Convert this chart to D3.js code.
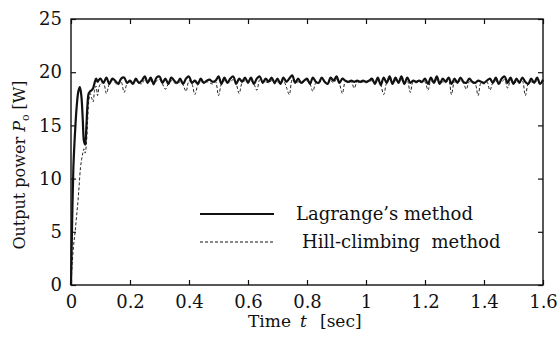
<!DOCTYPE html>
<html>
<head>
<meta charset="utf-8">
<script src="https://cdn.jsdelivr.net/npm/d3@7"></script>
<style>
  html, body { margin: 0; padding: 0; background: #fff; }
  svg { display: block; }
  svg text { font-family: "DejaVu Serif", serif; fill: #111; }
</style>
</head>
<body>
<svg id="chart" width="559" height="345"></svg>
<script>
// ---- data ----
const xTicks = [0, 0.2, 0.4, 0.6, 0.8, 1, 1.2, 1.4, 1.6];
const xTickLabels = ["0", "0.2", "0.4", "0.6", "0.8", "1", "1.2", "1.4", "1.6"];
const yTicks = [0, 5, 10, 15, 20, 25];
const yTickLabels = ["0", "5", "10", "15", "20", "25"];

// start-up transient (t in seconds)
const lagrangeStartTime = [0, 0.002, 0.005, 0.008, 0.012, 0.016, 0.02, 0.025, 0.03, 0.035, 0.04, 0.044, 0.048, 0.052, 0.056, 0.06, 0.065, 0.07, 0.075, 0.08, 0.085, 0.09, 0.095];
const lagrangeStartPower = [0, 3.0, 7.5, 11.0, 13.5, 15.5, 17.0, 18.2, 18.6, 17.8, 15.5, 13.5, 13.2, 14.8, 17.0, 18.0, 18.2, 18.3, 18.5, 19.0, 19.4, 19.1, 19.3];

const hillStartTime = [0, 0.004, 0.009, 0.014, 0.019, 0.024, 0.028, 0.032, 0.036, 0.04, 0.044, 0.048, 0.052, 0.056, 0.06, 0.065, 0.07, 0.075, 0.08, 0.085, 0.09, 0.095];
const hillStartPower = [0, 2.0, 3.8, 5.0, 6.5, 8.0, 9.5, 11.0, 11.8, 12.4, 12.8, 12.4, 13.2, 15.2, 17.2, 18.0, 17.6, 17.2, 18.3, 18.7, 17.8, 18.6];

// steady operation, sampled every 10 ms from 0.10 s to 1.60 s
const steadyStart = 0.10, steadyStep = 0.01;
const lagrangePower = [
  19.4, 19.0, 19.5, 18.9, 19.4, 19.2, 18.9, 19.4, 19.5, 19.0,
  19.2, 18.9, 19.4, 19.0, 19.2, 19.6, 19.0, 19.5, 18.9, 19.5,
  19.6, 19.0, 19.4, 18.9, 19.5, 19.2, 19.0, 19.4, 18.9, 19.4,
  19.6, 19.0, 19.2, 18.9, 19.4, 19.0, 19.2, 19.3, 19.1, 19.2,
  19.6, 18.9, 19.5, 19.0, 19.4, 19.6, 18.9, 19.4, 19.1, 19.5,
  19.0, 19.5, 18.9, 19.4, 19.6, 19.0, 19.4, 19.1, 19.5, 19.0,
  19.4, 18.9, 19.5, 19.1, 19.4, 19.7, 19.0, 19.4, 19.0, 19.2,
  19.4, 18.9, 19.5, 19.1, 19.0, 19.5, 19.1, 18.9, 19.5, 19.2,
  19.6, 19.0, 19.4, 19.2, 19.1, 19.2, 19.1, 19.2, 19.1, 19.2,
  19.1, 19.2, 19.4, 18.9, 19.5, 18.8, 19.5, 19.0, 19.6, 18.9,
  19.5, 19.0, 19.6, 18.9, 19.5, 19.0, 19.2, 19.1, 19.2, 19.1,
  19.4, 18.9, 19.5, 19.0, 19.6, 18.9, 19.4, 19.1, 19.5, 18.9,
  19.4, 19.0, 19.5, 19.1, 19.0, 19.4, 19.1, 19.0, 19.2, 19.1,
  19.0, 19.2, 19.4, 19.0, 19.5, 18.9, 19.4, 19.6, 19.0, 19.5,
  18.9, 19.4, 19.0, 19.5, 19.1, 18.9, 19.4, 19.0, 19.5, 18.9, 19.3
];
const hillPower = [
  18.9, 19.0, 18.0, 18.9, 19.2, 19.0, 18.8, 19.1, 18.1, 18.9,
  19.1, 18.9, 19.2, 19.0, 18.9, 19.3, 19.0, 19.2, 18.8, 19.2,
  19.3, 18.9, 18.4, 18.9, 19.2, 19.0, 18.9, 19.1, 18.8, 18.2,
  19.2, 18.9, 17.9, 18.8, 19.1, 19.0, 19.1, 19.0, 18.9, 19.1,
  17.8, 18.9, 19.2, 19.0, 19.1, 19.3, 18.9, 18.0, 19.0, 19.2,
  19.0, 19.2, 18.9, 18.3, 19.3, 19.0, 19.1, 19.0, 19.2, 18.9,
  19.1, 18.9, 19.2, 18.6, 17.9, 19.3, 19.0, 19.1, 19.0, 19.1,
  19.2, 18.9, 18.2, 19.0, 19.0, 19.2, 19.1, 18.9, 19.2, 19.0,
  19.3, 18.9, 18.0, 19.1, 19.0, 19.1, 18.5, 19.1, 19.0, 19.1,
  19.0, 19.1, 19.2, 18.9, 19.2, 18.8, 17.9, 19.0, 19.3, 18.9,
  19.2, 19.0, 19.3, 18.9, 19.2, 18.1, 19.1, 19.0, 19.1, 19.0,
  19.1, 18.3, 19.2, 19.0, 19.3, 18.9, 19.1, 19.0, 19.2, 17.9,
  19.1, 19.0, 19.2, 19.0, 18.4, 19.1, 19.0, 18.9, 17.8, 19.0,
  18.9, 19.1, 18.3, 19.0, 19.2, 18.9, 19.1, 19.3, 18.5, 19.2,
  18.9, 19.1, 19.0, 19.2, 17.8, 18.9, 19.1, 19.0, 19.2, 18.9, 19.1
];

const legendLabels = ["Lagrange\u2019s method", "Hill-climbing  method"];

// ---- build point lists ----
function buildSeries(startT, startP, steady) {
  const pts = startT.map((t, i) => [t, startP[i]]);
  steady.forEach((p, i) => pts.push([+(steadyStart + i * steadyStep).toFixed(3), p]));
  return pts;
}
const lagrangeSeries = buildSeries(lagrangeStartTime, lagrangeStartPower, lagrangePower);
const hillSeries = buildSeries(hillStartTime, hillStartPower, hillPower);

// ---- layout ----
const W = 559, H = 345;
const margin = { top: 19, right: 16, bottom: 60, left: 71 };
const iw = W - margin.left - margin.right;
const ih = H - margin.top - margin.bottom;
const serif = "'DejaVu Serif', serif";

const svg = d3.select("#chart");
const g = svg.append("g").attr("transform", `translate(${margin.left},${margin.top})`);

const x = d3.scaleLinear().domain([0, 1.6]).range([0, iw]);
const y = d3.scaleLinear().domain([0, 25]).range([ih, 0]);

const tickLen = 5;

// axes with inward ticks on all four sides
const axisBottom = d3.axisBottom(x).tickValues(xTicks)
  .tickFormat((d, i) => xTickLabels[i]).tickSizeInner(-tickLen).tickSizeOuter(0).tickPadding(10);
const axisTop = d3.axisTop(x).tickValues(xTicks).tickFormat("").tickSizeInner(-tickLen).tickSizeOuter(0);
const axisLeft = d3.axisLeft(y).tickValues(yTicks)
  .tickFormat((d, i) => yTickLabels[i]).tickSizeInner(-tickLen).tickSizeOuter(0).tickPadding(9);
const axisRight = d3.axisRight(y).tickValues(yTicks).tickFormat("").tickSizeInner(-tickLen).tickSizeOuter(0);

function styleAxis(sel) {
  sel.attr("font-family", serif);
  sel.select(".domain").remove();
  sel.selectAll(".tick line").attr("stroke", "#111").attr("stroke-width", 1.2);
  sel.selectAll(".tick text").attr("font-size", 18).attr("fill", "#111");
}

g.append("g").attr("transform", `translate(0,${ih})`).call(axisBottom).call(styleAxis);
g.append("g").call(axisTop).call(styleAxis);
g.append("g").call(axisLeft).call(styleAxis);
g.append("g").attr("transform", `translate(${iw},0)`).call(axisRight).call(styleAxis);

// frame
g.append("rect").attr("x", 0).attr("y", 0).attr("width", iw).attr("height", ih)
  .attr("fill", "none").attr("stroke", "#111").attr("stroke-width", 1.4);

// ---- lines ----
const line = d3.line().x(d => x(d[0])).y(d => y(d[1])).curve(d3.curveCatmullRom.alpha(0.5));

g.append("path").datum(hillSeries)
  .attr("d", line).attr("fill", "none").attr("stroke", "#222")
  .attr("stroke-width", 1).attr("stroke-dasharray", "3,2");

g.append("path").datum(lagrangeSeries)
  .attr("d", line).attr("fill", "none").attr("stroke", "#111")
  .attr("stroke-width", 2.2);

// ---- legend ----
const legend = g.append("g");
const legendRows = [
  { y: 214 - margin.top, dash: null, width: 2.2 },
  { y: 242 - margin.top, dash: "3,2", width: 1 }
];
legendRows.forEach((r, i) => {
  legend.append("line")
    .attr("x1", 200 - margin.left).attr("x2", 274 - margin.left)
    .attr("y1", r.y).attr("y2", r.y)
    .attr("stroke", "#111").attr("stroke-width", r.width)
    .attr("stroke-dasharray", r.dash);
  legend.append("text")
    .attr("x", (i === 0 ? 296 : 302) - margin.left).attr("y", r.y)
    .attr("dy", "0.35em").attr("font-size", 18)
    .attr("xml:space", "preserve")
    .text(legendLabels[i]);
});

// ---- axis titles ----
const xt = svg.append("text")
  .attr("x", 248).attr("y", 327).attr("font-size", 17)
  .attr("xml:space", "preserve");
xt.append("tspan").text("Time");
xt.append("tspan").attr("x", 300).attr("font-style", "italic").text("t");
xt.append("tspan").attr("x", 320).text("[sec]");

const yt = svg.append("text")
  .attr("transform", "translate(25,165) rotate(-90)")
  .attr("text-anchor", "middle").attr("font-size", 16)
  .attr("xml:space", "preserve");
yt.append("tspan").text("Output power ");
yt.append("tspan").attr("font-style", "italic").text("P");
yt.append("tspan").attr("font-size", 11).attr("dy", 4).text("o");
yt.append("tspan").attr("dy", -4).text(" [W]");
</script>
</body>
</html>
